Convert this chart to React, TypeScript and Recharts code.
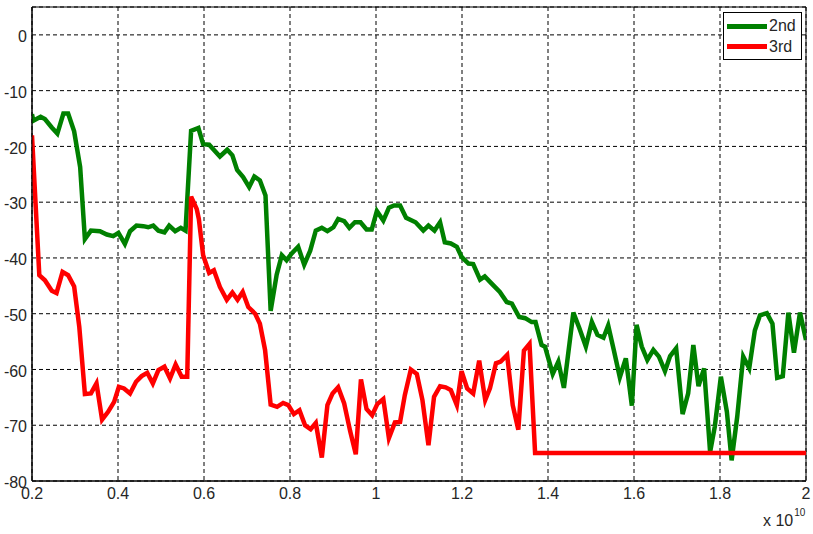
import React from "react";
import { LineChart, Line, XAxis, YAxis, CartesianGrid, ReferenceArea } from "recharts";

const xTicks = [0.2, 0.4, 0.6, 0.8, 1.0, 1.2, 1.4, 1.6, 1.8, 2.0];
const yTicks = [-80, -70, -60, -50, -40, -30, -20, -10, 0];

const green2ndFreq = [
  0.2, 0.203, 0.22, 0.23, 0.246, 0.259, 0.273, 0.284, 0.298, 0.312, 0.323, 0.337, 0.358, 0.374, 0.389, 0.401,
  0.416, 0.428, 0.443, 0.459, 0.47, 0.482, 0.494, 0.508, 0.519, 0.533, 0.546, 0.557, 0.57, 0.587, 0.598, 0.612,
  0.637, 0.654, 0.666, 0.677, 0.691, 0.705, 0.717, 0.73, 0.743, 0.755, 0.769, 0.781, 0.792, 0.804, 0.819, 0.833,
  0.847, 0.86, 0.874, 0.887, 0.901, 0.912, 0.926, 0.938, 0.951, 0.964, 0.978, 0.99, 1.002, 1.017, 1.03, 1.042,
  1.056, 1.07, 1.092, 1.11, 1.122, 1.136, 1.149, 1.16, 1.174, 1.188, 1.199, 1.215, 1.226, 1.242, 1.253, 1.269,
  1.288, 1.304, 1.316, 1.333, 1.347, 1.362, 1.371, 1.385, 1.393, 1.411, 1.424, 1.437, 1.459, 1.473, 1.488, 1.502,
  1.515, 1.529, 1.54, 1.553, 1.567, 1.581, 1.595, 1.606, 1.618, 1.631, 1.645, 1.658, 1.672, 1.684, 1.698, 1.713,
  1.726, 1.738, 1.75, 1.763, 1.777, 1.788, 1.802, 1.816, 1.827, 1.84, 1.854, 1.868, 1.881, 1.893, 1.909, 1.922,
  1.933, 1.946, 1.959, 1.972, 1.986, 2.0,
];
const green2ndLevel = [
  -14.2, -15.4, -14.7, -15.1, -16.6, -17.7, -14.1, -14.1, -17.3, -23.7, -36.6, -35.1, -35.2, -35.8, -36.1, -35.5,
  -37.5, -35.2, -34.2, -34.3, -34.5, -34.2, -35.1, -35.4, -34.2, -35.2, -34.6, -35.1, -17.2, -16.7, -19.6, -19.7,
  -21.8, -20.6, -21.6, -24.2, -25.5, -27.3, -25.4, -26.1, -28.8, -49.5, -43.0, -39.5, -40.4, -39.2, -38.0, -41.2,
  -38.7, -35.1, -34.6, -35.2, -34.5, -33.0, -33.4, -34.6, -33.6, -33.6, -34.9, -34.9, -31.6, -33.3, -31.0, -30.6,
  -30.6, -32.8, -33.6, -35.1, -34.2, -35.1, -33.6, -37.2, -37.4, -38.0, -39.8, -41.0, -41.1, -43.9, -43.3, -44.6,
  -46.1, -47.9, -48.2, -50.6, -50.8, -51.5, -51.5, -55.6, -55.9, -60.8, -58.6, -63.3, -49.8, -52.6, -55.9, -51.5,
  -53.8, -54.3, -52.1, -56.5, -61.4, -58.0, -66.5, -52.0, -55.9, -58.3, -56.5, -57.7, -60.3, -57.6, -56.2, -68.0,
  -64.3, -55.6, -63.0, -59.8, -74.8, -70.2, -61.3, -67.6, -76.3, -68.5, -57.7, -59.8, -53.0, -50.3, -49.9, -51.8,
  -61.5, -61.2, -49.8, -57.0, -49.8, -54.7,
];

const red3rdFreq = [
  0.2, 0.217, 0.23, 0.246, 0.257, 0.271, 0.284, 0.298, 0.31, 0.323, 0.337, 0.35, 0.363, 0.377, 0.391, 0.402,
  0.414, 0.428, 0.442, 0.455, 0.468, 0.481, 0.494, 0.508, 0.521, 0.534, 0.548, 0.561, 0.57, 0.583, 0.588, 0.598,
  0.612, 0.623, 0.637, 0.653, 0.666, 0.678, 0.69, 0.703, 0.719, 0.73, 0.742, 0.755, 0.77, 0.784, 0.796, 0.809,
  0.822, 0.835, 0.848, 0.86, 0.874, 0.887, 0.899, 0.912, 0.926, 0.94, 0.953, 0.965, 0.978, 0.991, 1.003, 1.017,
  1.03, 1.044, 1.056, 1.067, 1.081, 1.095, 1.108, 1.122, 1.135, 1.149, 1.162, 1.174, 1.188, 1.199, 1.212, 1.226,
  1.24, 1.254, 1.265, 1.279, 1.29, 1.305, 1.318, 1.331, 1.344, 1.357, 1.37, 2.0,
];
const red3rdLevel = [
  -18.0, -43.1, -44.0, -45.9, -46.3, -42.5, -43.1, -45.1, -52.4, -64.4, -64.3, -62.5, -69.0, -67.6, -65.8, -63.1,
  -63.4, -64.3, -62.2, -61.2, -60.6, -62.5, -60.1, -59.5, -61.6, -59.1, -61.3, -61.3, -29.0, -31.2, -33.0, -39.5,
  -42.7, -42.2, -45.2, -47.5, -46.2, -47.5, -46.1, -48.8, -50.0, -51.8, -56.5, -66.3, -66.7, -66.0, -66.4, -68.0,
  -67.3, -70.0, -70.7, -69.6, -75.8, -66.4, -64.3, -63.2, -66.1, -71.1, -75.2, -61.8, -67.1, -68.2, -66.2, -65.3,
  -72.3, -69.5, -69.4, -64.6, -60.0, -60.8, -65.5, -73.6, -64.9, -63.0, -63.2, -63.7, -66.4, -60.3, -63.4, -64.3,
  -58.4, -65.5, -63.4, -58.9, -58.6, -57.4, -66.4, -70.8, -56.6, -55.4, -75.0, -75.0,
];

const greenData = green2ndFreq.map((x, i) => ({ x, y: green2ndLevel[i] }));
const redData = red3rdFreq.map((x, i) => ({ x, y: red3rdLevel[i] }));

const FONT = "'Liberation Sans', Arial, sans-serif";
const TEXT = "#262626";

const fmtX = (v: number) => String(Number(v.toFixed(1)));

const legendItems = [
  { name: "2nd", color: "#008000", cy: 13 },
  { name: "3rd", color: "#ff0000", cy: 33.5 },
];

export default function App() {
  return (
    <div style={{ position: "absolute", left: 0, top: 0, width: 813, height: 534, background: "#fff" }}>
      <LineChart width={813} height={534} margin={{ top: 7, right: 7, bottom: 23, left: 0 }}>
        <CartesianGrid stroke="#000" strokeDasharray="4 3" strokeWidth={1} />
        <XAxis
          type="number"
          dataKey="x"
          domain={[0.2, 2]}
          ticks={xTicks}
          tickFormatter={fmtX}
          allowDataOverflow
          height={30}
          tickLine={false}
          tickSize={0}
          tickMargin={7}
          axisLine={{ stroke: "#000" }}
          tick={{ fill: TEXT, fontSize: 16, fontFamily: FONT }}
        />
        <YAxis
          type="number"
          domain={[-80, 5]}
          ticks={yTicks}
          allowDataOverflow
          width={32}
          tickLine={false}
          tickSize={0}
          tickMargin={5}
          axisLine={{ stroke: "#000" }}
          tick={{ fill: TEXT, fontSize: 16, fontFamily: FONT, dy: 1.5 }}
        />
        <Line
          data={greenData}
          dataKey="y"
          name="2nd"
          type="linear"
          stroke="#008000"
          strokeWidth={4.5}
          dot={false}
          activeDot={false}
          isAnimationActive={false}
        />
        <Line
          data={redData}
          dataKey="y"
          name="3rd"
          type="linear"
          stroke="#ff0000"
          strokeWidth={4.5}
          dot={false}
          activeDot={false}
          isAnimationActive={false}
        />
        <ReferenceArea x1={0.2} x2={2} y1={-80} y2={5} fill="none" stroke="#000" strokeWidth={1} />
      </LineChart>
      <div
        style={{
          position: "absolute",
          left: 723,
          top: 12,
          width: 77,
          height: 46,
          border: "1px solid #000",
          background: "#fff",
          fontFamily: FONT,
          fontSize: 16,
          color: TEXT,
        }}
      >
        {legendItems.map((r) => (
          <React.Fragment key={r.name}>
            <div style={{ position: "absolute", left: 3, top: r.cy - 2.5, width: 40, height: 5, background: r.color }} />
            <div style={{ position: "absolute", left: 45, top: r.cy - 9, lineHeight: "18px" }}>{r.name}</div>
          </React.Fragment>
        ))}
      </div>
      <div
        style={{
          position: "absolute",
          left: 763,
          top: 512,
          fontFamily: FONT,
          fontSize: 16,
          color: TEXT,
          whiteSpace: "nowrap",
          lineHeight: "17px",
        }}
      >
        x 10<span style={{ fontSize: 10, position: "relative", top: -10, marginLeft: 1 }}>10</span>
      </div>
    </div>
  );
}
